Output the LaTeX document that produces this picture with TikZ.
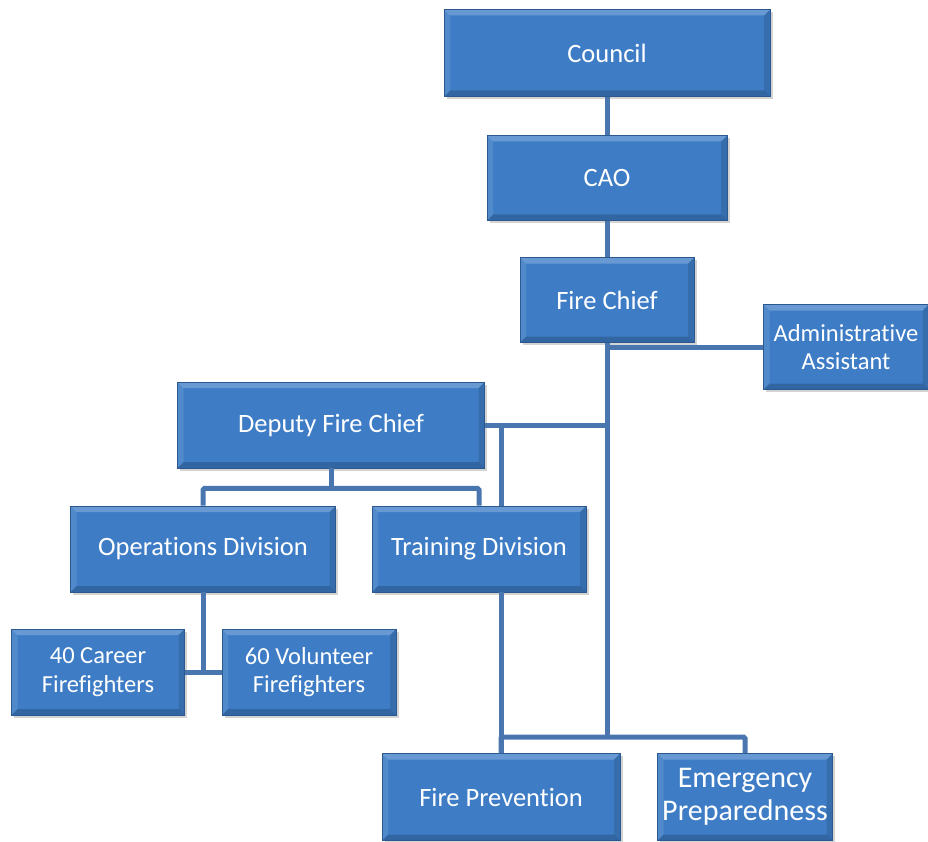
\documentclass[tikz,border=0pt]{standalone}
\usepackage{fontspec}
\setmainfont{Carlito}[Ligatures=NoCommon]
\definecolor{boxblue} {HTML}{3E7DC6}
\definecolor{boxedge} {HTML}{2C5890}
\definecolor{wireblue}{HTML}{4A76B0}
\usetikzlibrary{positioning,calc,shadows}
\tikzset{
  unit/.style={draw=boxedge,line width=0.8pt,fill=boxblue,text=white,
               inner sep=0pt,align=center,font=\fontsize{26.5}{31}\selectfont,
               drop shadow={shadow xshift=2.5pt,shadow yshift=-2.5pt,opacity=0.35},
               path picture={
                 \coordinate (nw) at (path picture bounding box.north west);
                 \coordinate (ne) at (path picture bounding box.north east);
                 \coordinate (sw) at (path picture bounding box.south west);
                 \coordinate (se) at (path picture bounding box.south east);
                 \fill[white,opacity=0.22] (nw) -- (ne) -- ([xshift=-6pt,yshift=-6pt]ne)
                   -- ([xshift=6pt,yshift=-6pt]nw) -- cycle;
                 \fill[white,opacity=0.10] (nw) -- ([xshift=6pt,yshift=-6pt]nw)
                   -- ([xshift=6pt,yshift=6pt]sw) -- (sw) -- cycle;
                 \fill[black,opacity=0.18] (sw) -- (se) -- ([xshift=-6pt,yshift=6pt]se)
                   -- ([xshift=6pt,yshift=6pt]sw) -- cycle;
                 \fill[black,opacity=0.12] (ne) -- (se) -- ([xshift=-6pt,yshift=6pt]se)
                   -- ([xshift=-6pt,yshift=-6pt]ne) -- cycle;}},
  small/.style={font=\fontsize{24.5}{28.5}\selectfont},
  wire/.style={draw=wireblue,line width=5pt,rounded corners=1.5pt}
}
\begin{document}
\begin{tikzpicture}[x=1pt,y=-1pt]
  \useasboundingbox (0,0) rectangle (928,842);

  % top of the chain
  \node[unit,minimum width=326pt,minimum height=87pt] (council) at (607,53) {Council};
  \node[unit,minimum width=240pt,minimum height=85pt] (cao) at (607,178) {CAO};
  \node[unit,minimum width=174pt,minimum height=85pt] (chief) at (607,300) {Fire Chief};
  \node[unit,small,minimum width=165pt,minimum height=85pt] (admin) at (846,347)
       {Administrative\\Assistant};

  % divisions
  \node[unit,minimum width=307pt,minimum height=86pt] (deputy) at (331,425) {Deputy Fire Chief};
  \node[unit,minimum width=265pt,minimum height=86pt] (ops) at (203,549) {Operations Division};
  \node[unit,minimum width=214pt,minimum height=86pt] (training) at (479,549) {Training Division};
  \node[unit,small,minimum width=173pt,minimum height=86pt] (career) at (98,672)
       {40 Career\\Firefighters};
  \node[unit,small,minimum width=174pt,minimum height=86pt] (volunteer) at (309,672)
       {60 Volunteer\\Firefighters};
  \node[unit,minimum width=238pt,minimum height=87pt] (prevention) at (501,797) {Fire Prevention};
  \node[unit,minimum width=175pt,minimum height=87pt,font=\fontsize{30}{33}\selectfont]
       (emergency) at (745,797) {Emergency\\Preparedness};

  \coordinate (bus) at (607,737);

  % connectors
  \draw[wire] (council) -- (cao);
  \draw[wire] (cao) -- (chief);
  \draw[wire] (chief) -- (bus);
  \draw[wire] (admin.west) -- (admin.west -| chief.south);
  \draw[wire] (deputy.east) -- (deputy.east -| chief.south);
  \draw[wire] (deputy.east -| prevention.north) -- (training.north -| prevention.north);
  \draw[wire] (deputy.south) -- ++(0,20) coordinate (dj);
  \draw[wire] (ops.north) |- (dj) -| (training.north);
  \draw[wire] (ops.south) -- (ops.south |- career.east);
  \draw[wire] (career.east) -- (volunteer.west);
  \draw[wire] (training.south -| prevention.north) -- (prevention.north);
  \draw[wire] (prevention.north) |- (bus) -| (emergency.north);
\end{tikzpicture}
\end{document}
